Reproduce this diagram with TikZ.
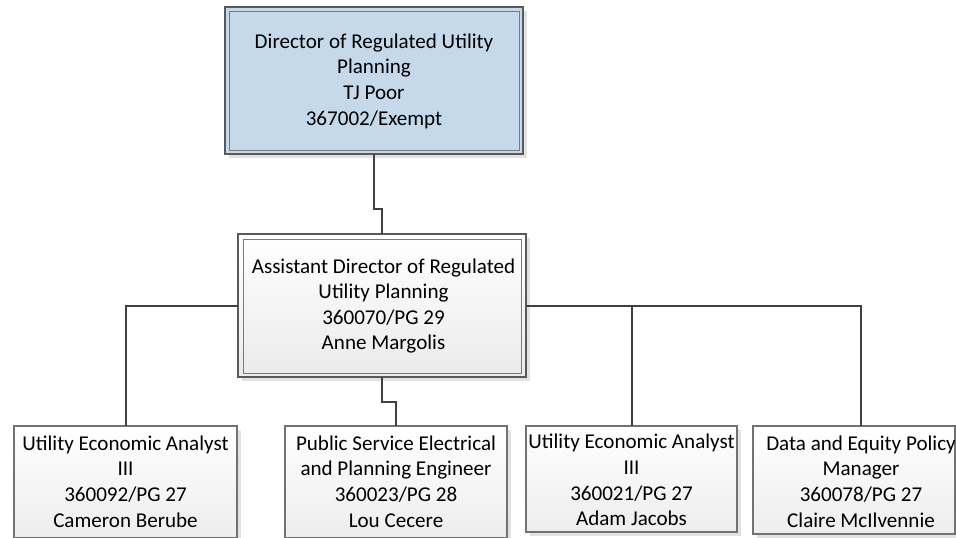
\documentclass[tikz,border=0pt]{standalone}
\usepackage{fontspec}
\setmainfont{Carlito}
\usetikzlibrary{shadows}
\definecolor{linkgray}{HTML}{404040}
\definecolor{edgegray}{HTML}{595959}
\definecolor{innergray}{HTML}{7A7A7A}
\definecolor{headblue}{RGB}{197,217,235}
\definecolor{shadowgray}{HTML}{E2E2E2}
\begin{document}
\begin{tikzpicture}[x=0.75pt,y=-0.75pt,
  every node/.style={font=\fontsize{15.8}{19.2}\selectfont, align=center, inner sep=0pt, outer sep=0pt},
  boxshadow/.style={drop shadow={shadow xshift=3pt, shadow yshift=-3pt, fill=shadowgray, opacity=1}},
  headbox/.style={draw=edgegray, line width=0.9pt, fill=headblue, boxshadow},
  midbox/.style={draw=edgegray, line width=0.9pt, top color=white, bottom color=black!8, boxshadow},
  staffbox/.style={draw=edgegray!85, line width=0.8pt, top color=white, bottom color=black!7, boxshadow},
  innerframe/.style={draw=innergray, line width=0.75pt},
  link/.style={draw=linkgray, line width=1.5pt}
]
\useasboundingbox[fill=white] (0,0) rectangle (956,537);

% director and assistant director (double framed)
\node[headbox, minimum width=223.5pt, minimum height=110.25pt] (top) at (374,80.5) {};
\draw[innerframe] ([shift={(4,4)}]top.north west) rectangle ([shift={(-4,-4)}]top.south east);
\node (toptext) at (374,81) {Director of Regulated Utility\\Planning\\TJ Poor\\367002/Exempt};

\node[midbox, minimum width=216pt, minimum height=107.25pt] (mid) at (382,305.5) {};
\draw[innerframe] ([shift={(5,5)}]mid.north west) rectangle ([shift={(-5,-4)}]mid.south east);
\node (midtext) at (383.5,306) {Assistant Director of Regulated\\Utility Planning\\360070/PG 29\\Anne Margolis};

% staff positions
\node[staffbox, minimum width=167.25pt, minimum height=84pt] (b1) at (125.5,482) {};
\node (b1text) at (125.5,481.5) {Utility Economic Analyst\\III\\360092/PG 27\\Cameron Berube};

\node[staffbox, minimum width=166.5pt, minimum height=84pt] (b2) at (396,482) {};
\node (b2text) at (396,481.5) {Public Service Electrical\\and Planning Engineer\\360023/PG 28\\Lou Cecere};

\node[staffbox, minimum width=158.25pt, minimum height=79.5pt] (b3) at (631.5,479) {};
\node (b3text) at (631.5,480) {Utility Economic Analyst\\III\\360021/PG 27\\Adam Jacobs};

\node[staffbox, minimum width=151.5pt, minimum height=81pt] (b4) at (854,480) {};
\node (b4text) at (861,481.5) {Data and Equity Policy\\Manager\\360078/PG 27\\Claire McIlvennie};

% reporting lines
\draw[link] (top.south) -- ++(0,55) -| (mid.north);
\draw[link] (mid.south) -- ++(0,25) -| (b2text |- b2.north);
\draw[link] (mid.west) -| (b1text |- b1.north);
\draw[link] (mid.east) -| (b3text |- b3.north);
\draw[link] (mid.east) -| (b4text |- b4.north);
\end{tikzpicture}
\end{document}
